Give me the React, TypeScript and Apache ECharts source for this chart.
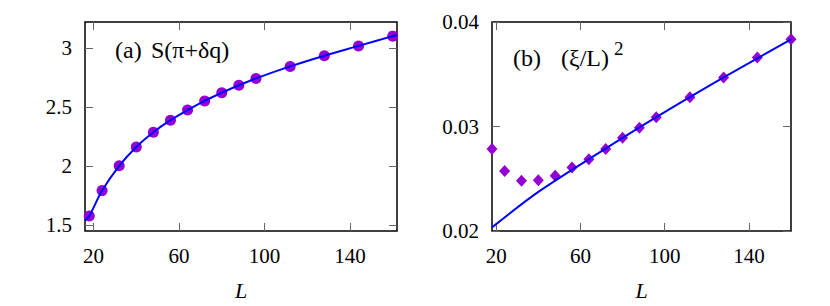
import React, { useEffect, useRef } from "react";
import * as echarts from "echarts";

// System sizes
const Ls = [18, 24, 32, 40, 48, 56, 64, 72, 80, 88, 96, 112, 128, 144, 160];
// (a) S(pi + dq)
const sValues = [1.577, 1.793, 2.004, 2.164, 2.289, 2.391, 2.477, 2.555, 2.624, 2.688, 2.746, 2.848, 2.939, 3.022, 3.105];
// (b) (xi/L)^2
const xiValues = [0.02785, 0.02573, 0.0248, 0.02485, 0.02529, 0.02607, 0.02686, 0.02785, 0.02892, 0.02988, 0.03089, 0.03279, 0.03469, 0.0366, 0.03834];
// fit curves
const fitSL = [16, 18, 24, 32, 40, 48, 56, 64, 72, 80, 88, 96, 112, 128, 144, 160, 162];
const fitSV = [1.54, 1.577, 1.793, 2.004, 2.164, 2.289, 2.391, 2.477, 2.555, 2.624, 2.688, 2.746, 2.848, 2.939, 3.022, 3.105, 3.113];
const fitXL = [18, 40, 68, 96, 128, 160];
const fitXV = [0.02035, 0.02374, 0.02738, 0.03089, 0.0347, 0.03834];

const xTicks = [20, 60, 100, 140];
const yTicksA = [1.5, 2, 2.5, 3];
const yTicksB = [0.02, 0.03, 0.04];

const FONT = "Liberation Serif";
const PURPLE = "#9400d3";
const BLUE = "#0000ff";
const TICK = "#666";

const pairs = (xs: number[], ys: number[]) => xs.map((x, i) => [x, ys[i]]);

function xAx(grid: number, min: number, max: number, top: boolean) {
  return {
    type: "value",
    gridIndex: grid,
    position: top ? "top" : "bottom",
    min,
    max,
    axisLine: { show: false },
    splitLine: { show: false },
    axisTick: { show: true, inside: true, length: 8, customValues: xTicks, lineStyle: { color: TICK, width: 1 } },
    axisLabel: top
      ? { show: false }
      : { show: true, customValues: xTicks, fontFamily: FONT, fontSize: 21, color: "#000", margin: 14 },
    name: top ? "" : "L",
    nameLocation: "middle",
    nameGap: 48,
    nameTextStyle: { fontFamily: FONT, fontSize: 22, fontStyle: "italic", color: "#000" },
  };
}

function yAx(grid: number, min: number, max: number, ticks: number[], right: boolean) {
  return {
    type: "value",
    gridIndex: grid,
    position: right ? "right" : "left",
    min,
    max,
    axisLine: { show: false },
    splitLine: { show: false },
    axisTick: { show: true, inside: true, length: 8, customValues: ticks, lineStyle: { color: TICK, width: 1 } },
    axisLabel: right
      ? { show: false }
      : {
          show: true,
          customValues: ticks,
          fontFamily: FONT,
          fontSize: 21,
          color: "#000",
          margin: 13,
          formatter: (v: number) => String(v),
        },
  };
}

export default function App() {
  const ref = useRef<HTMLDivElement>(null);
  useEffect(() => {
    document.body.style.margin = "0";
    const chart = echarts.init(ref.current!, null, { renderer: "svg" });
    const option = {
      animation: false,
      backgroundColor: "#fff",
      textStyle: { fontFamily: FONT },
      grid: [
        { left: 85, top: 22, width: 312, height: 214, show: true, borderColor: "#000", borderWidth: 1.5, backgroundColor: "transparent" },
        { left: 492, top: 22, width: 299, height: 213.5, show: true, borderColor: "#000", borderWidth: 1.5, backgroundColor: "transparent" },
      ],
      xAxis: [xAx(0, 16, 162, false), xAx(0, 16, 162, true), xAx(1, 18, 160, false), xAx(1, 18, 160, true)],
      yAxis: [
        yAx(0, 1.45, 3.225, yTicksA, false),
        yAx(0, 1.45, 3.225, yTicksA, true),
        yAx(1, 0.02, 0.04, yTicksB, false),
        yAx(1, 0.02, 0.04, yTicksB, true),
      ],
      series: [
        {
          type: "line",
          xAxisIndex: 0,
          yAxisIndex: 0,
          data: pairs(fitSL, fitSV),
          smooth: 0.3,
          showSymbol: false,
          lineStyle: { color: BLUE, width: 2 },
          z: 3,
        },
        {
          type: "scatter",
          xAxisIndex: 0,
          yAxisIndex: 0,
          data: pairs(Ls, sValues),
          symbol: "circle",
          symbolSize: 11,
          itemStyle: { color: PURPLE, opacity: 1 },
          z: 2,
        },
        {
          type: "line",
          xAxisIndex: 2,
          yAxisIndex: 2,
          data: pairs(fitXL, fitXV),
          smooth: 0.3,
          showSymbol: false,
          lineStyle: { color: BLUE, width: 2 },
          z: 3,
        },
        {
          type: "scatter",
          xAxisIndex: 2,
          yAxisIndex: 2,
          data: pairs(Ls, xiValues),
          symbol: "diamond",
          symbolSize: [11, 12],
          itemStyle: { color: PURPLE, opacity: 1 },
          z: 2,
        },
      ],
      graphic: [
        { type: "text", left: 115, top: 38, style: { text: "(a)", fontFamily: FONT, fontSize: 24, fill: "#000" } },
        { type: "text", left: 151, top: 38, style: { text: "S(π+δq)", fontFamily: FONT, fontSize: 24, fill: "#000" } },
        { type: "text", left: 513, top: 46, style: { text: "(b)", fontFamily: FONT, fontSize: 24, fill: "#000" } },
        { type: "text", left: 561, top: 46, style: { text: "(ξ/L)", fontFamily: FONT, fontSize: 24, fill: "#000" } },
        { type: "text", left: 614, top: 39, style: { text: "2", fontFamily: FONT, fontSize: 19, fill: "#000" } },
      ],
    };
    chart.setOption(option);
    let alive = true;
    const fonts = (document as any).fonts;
    if (fonts && fonts.ready) {
      fonts.ready.then(() => {
        if (alive) chart.setOption(option, true);
      });
    }
    return () => {
      alive = false;
      chart.dispose();
    };
  }, []);
  return <div ref={ref} style={{ width: 830, height: 306, position: "absolute", left: 0, top: 0 }} />;
}
